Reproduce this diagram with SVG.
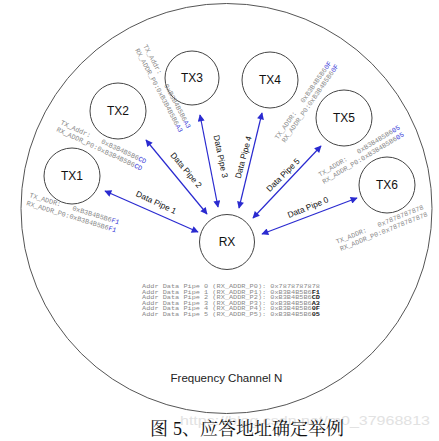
<svg xmlns="http://www.w3.org/2000/svg" width="439" height="441" viewBox="0 0 439 441">
<defs>
<marker id="ah" viewBox="0 0 10 10" refX="9" refY="5" markerWidth="10" markerHeight="7" markerUnits="userSpaceOnUse" orient="auto-start-reverse">
<path d="M0,0 L10,5 L0,10 z" fill="#2a2ad0"/>
</marker>
<style>
.node{fill:#fff;stroke:#444;stroke-width:1}
.nl{font-family:"Liberation Sans",Arial,sans-serif;font-size:12px;fill:#111;text-anchor:middle}
.pipe{stroke:#2a2ad0;stroke-width:1.2;fill:none;marker-start:url(#ah);marker-end:url(#ah)}
.pl{font-family:"Liberation Sans",Arial,sans-serif;font-size:8.3px;fill:#111;text-anchor:middle}
.ad{font-family:"Liberation Mono","Courier New",monospace;font-size:6.8px;fill:#8a8a8a}
.b{fill:#3a3ad8}
.tb{font-family:"Liberation Mono","Courier New",monospace;font-size:5.4px;fill:#8a8a8a}
.bb{fill:#222;font-weight:bold}
</style>
</defs>
<rect width="439" height="441" fill="#fff"/>
<ellipse cx="226.5" cy="208.5" rx="205.5" ry="205" fill="none" stroke="#555" stroke-width="1"/>

<g id="connectors">
<line class="pipe" x1="105" y1="191" x2="198" y2="232"/>
<line class="pipe" x1="146" y1="140" x2="207" y2="214"/>
<line class="pipe" x1="200" y1="115" x2="218" y2="207"/>
<line class="pipe" x1="262" y1="113" x2="239" y2="208"/>
<line class="pipe" x1="321" y1="146" x2="253" y2="218"/>
<line class="pipe" x1="357" y1="198" x2="262" y2="234"/>
<text class="pl" transform="translate(155,205) rotate(25)">Data Pipe 1</text>
<text class="pl" transform="translate(184,172) rotate(50)">Data Pipe 2</text>
<text class="pl" transform="translate(218,157) rotate(78)">Data Pipe 3</text>
<text class="pl" transform="translate(246,158) rotate(-75)">Data Pipe 4</text>
<text class="pl" transform="translate(285,177) rotate(-45)">Data Pipe 5</text>
<text class="pl" transform="translate(309,210) rotate(-22)">Data Pipe 0</text>
</g>

<g id="TX1">
<circle class="node" cx="72" cy="176" r="28"/>
<text class="nl" x="72" y="180">TX1</text>
<text class="ad" xml:space="preserve" transform="translate(29,197) rotate(17)">TX_ADDR:   0xB3B4B5B6<tspan class="b">F1</tspan></text>
<text class="ad" xml:space="preserve" transform="translate(26,205) rotate(17)">RX_ADDR_P0:0xB3B4B5B6<tspan class="b">F1</tspan></text>
</g>

<g id="TX2">
<circle class="node" cx="118" cy="111" r="28"/>
<text class="nl" x="118" y="115">TX2</text>
<text class="ad" xml:space="preserve" transform="translate(60,124) rotate(25)">TX_Addr:   0xB3B4B5B6<tspan class="b">CD</tspan></text>
<text class="ad" xml:space="preserve" transform="translate(56,131) rotate(25)">RX_ADDR_P0:0xB3B4B5B6<tspan class="b">CD</tspan></text>
</g>

<g id="TX3">
<circle class="node" cx="192" cy="78" r="27"/>
<text class="nl" x="192" y="82">TX3</text>
<text class="ad" xml:space="preserve" transform="translate(143,46) rotate(62)">TX_Addr:   0xB3B4B5B6<tspan class="b">A3</tspan></text>
<text class="ad" xml:space="preserve" transform="translate(135,50) rotate(62)">RX_ADDR_P0:0xB3B4B5B6<tspan class="b">A3</tspan></text>
</g>

<g id="TX4">
<circle class="node" cx="270" cy="80" r="28"/>
<text class="nl" x="270" y="84">TX4</text>
<text class="ad" xml:space="preserve" transform="translate(278,140) rotate(-55)">TX_ADDR:   0xB3B4B5B6<tspan class="b">0F</tspan></text>
<text class="ad" xml:space="preserve" transform="translate(285,143) rotate(-55)">RX_ADDR_P0:0xB3B4B5B6<tspan class="b">0F</tspan></text>
</g>

<g id="TX5">
<circle class="node" cx="344" cy="118" r="28"/>
<text class="nl" x="344" y="122">TX5</text>
<text class="ad" xml:space="preserve" transform="translate(320,177) rotate(-31)">TX_ADDR:   0xB3B4B5B6<tspan class="b">05</tspan></text>
<text class="ad" xml:space="preserve" transform="translate(324,184) rotate(-31)">RX_ADDR_P0:0xB3B4B5B6<tspan class="b">05</tspan></text>
</g>

<g id="TX6">
<circle class="node" cx="387" cy="185" r="28"/>
<text class="nl" x="387" y="189">TX6</text>
<text class="ad" xml:space="preserve" transform="translate(337,244) rotate(-22)">TX_ADDR:   0x7878787878</text>
<text class="ad" xml:space="preserve" transform="translate(341,251) rotate(-22)">RX_ADDR_P0:0x7878787878</text>
</g>

<g id="RX">
<circle class="node" cx="227" cy="242" r="27.5"/>
<text class="nl" x="227" y="246">RX</text>
</g>

<g id="table">
<text class="tb" x="142" y="288" textLength="178" lengthAdjust="spacingAndGlyphs">Addr Data Pipe 0 (RX_ADDR_P0): 0x7878787878</text>
<text class="tb" x="142" y="293.6" textLength="178" lengthAdjust="spacingAndGlyphs">Addr Data Pipe 1 (RX_ADDR_P1): 0xB3B4B5B6<tspan class="bb">F1</tspan></text>
<text class="tb" x="142" y="299.2" textLength="178" lengthAdjust="spacingAndGlyphs">Addr Data Pipe 2 (RX_ADDR_P2): 0xB3B4B5B6<tspan class="bb">CD</tspan></text>
<text class="tb" x="142" y="304.8" textLength="178" lengthAdjust="spacingAndGlyphs">Addr Data Pipe 3 (RX_ADDR_P3): 0xB3B4B5B6<tspan class="bb">A3</tspan></text>
<text class="tb" x="142" y="310.4" textLength="178" lengthAdjust="spacingAndGlyphs">Addr Data Pipe 4 (RX_ADDR_P4): 0xB3B4B5B6<tspan class="bb">0F</tspan></text>
<text class="tb" x="142" y="316" textLength="178" lengthAdjust="spacingAndGlyphs">Addr Data Pipe 5 (RX_ADDR_P5): 0xB3B4B5B6<tspan class="bb">05</tspan></text>
</g>

<text x="226.5" y="382" font-family="Liberation Sans,Arial,sans-serif" font-size="11.5" fill="#222" text-anchor="middle">Frequency Channel N</text>

<text x="180" y="425" font-family="Liberation Sans,Arial,sans-serif" font-size="13" fill="#e2e2e2" textLength="250" lengthAdjust="spacingAndGlyphs">https://blog.csdn.net/m0_37968813</text>

<g id="caption" fill="#111">
<text x="150" y="435" font-family="Noto Serif CJK SC,Noto Sans CJK SC,serif" font-size="18">图</text>
<text x="173" y="435" font-family="Liberation Serif,serif" font-size="18">5</text>
<text x="182" y="435" font-family="Noto Serif CJK SC,Noto Sans CJK SC,serif" font-size="18">、应答地址确定举例</text>
</g>
</svg>
